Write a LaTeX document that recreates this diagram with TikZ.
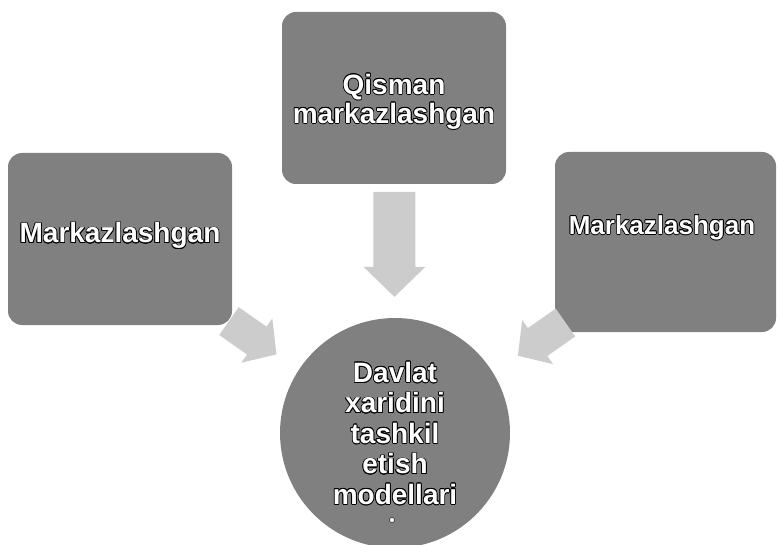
\documentclass[tikz,border=0pt]{standalone}
\usepackage{fontspec}
\setmainfont{Liberation Sans}
\usepackage{contour}
\contourlength{0.7pt}
\usetikzlibrary{calc}

\tikzset{
  box/.style={fill=black!50, rounded corners=14pt, minimum width=224pt, minimum height=172pt},
  hub/.style={circle, fill=black!50, minimum size=230pt, inner sep=0pt},
  lbl/.style={text=white, font=\fontsize{28}{32}\selectfont\bfseries, align=center, inner sep=0pt},
  flow/.style={fill=black!20}
}
\newcommand{\outl}[1]{\contour{black}{#1}}

\begin{document}
\begin{tikzpicture}[x=1pt,y=-1pt]

    \useasboundingbox (0,0) rectangle (778,545);

    % the three models and the centre
    \node[box] (top) at (394,98) {};
    \node[box] (left) at (120,239) {};
    \node[box, minimum width=221pt, minimum height=180pt] (right) at (665.5,242) {};
    \node[hub] (hub) at (395,433) {};

    % block arrows towards the centre
    \begin{scope}[shift={($(top.south)!0.45!(hub.north)$)}, rotate=-90]
      \fill[flow] (-52.5,-21) -- (22.5,-21) -- (22.5,-31) -- (52.5,0) -- (22.5,31) -- (22.5,21) -- (-52.5,21) -- cycle;
    \end{scope}
    \begin{scope}[shift={($(left.south east)!0.3!(hub.145)$)}, rotate=-35]
      \fill[flow] (-29,-17) -- (5,-17) -- (5,-27) -- (29,0) -- (5,27) -- (5,17) -- (-29,17) -- cycle;
    \end{scope}
    \begin{scope}[shift={($(right.south west)!0.2!(hub.35)$)}, rotate=215]
      \fill[flow] (-29,-17) -- (5,-17) -- (5,-27) -- (29,0) -- (5,27) -- (5,17) -- (-29,17) -- cycle;
    \end{scope}

    % labels
    \node[lbl, font=\fontsize{28}{29}\selectfont\bfseries] (toplbl) at (394,102) {\outl{Qisman}\\\outl{markazlashgan}};
    \node[lbl] (leftlbl) at (120,236) {\outl{Markazlashgan}};
    \node[lbl, font=\fontsize{26}{30}\selectfont\bfseries] (rightlbl) at (662,228) {\outl{Markazlashgan}};
    \node[lbl, font=\fontsize{28}{30.5}\selectfont\bfseries, anchor=north] (hublbl) at (395,362) {\outl{Davlat}\\\outl{xaridini}\\\outl{tashkil}\\\outl{etish}\\\outl{modellari}};
    \node[circle, fill=white, draw=black, line width=0.4pt, inner sep=0pt, minimum size=5pt] (hubdot) at (392,520) {};

\end{tikzpicture}
\end{document}
